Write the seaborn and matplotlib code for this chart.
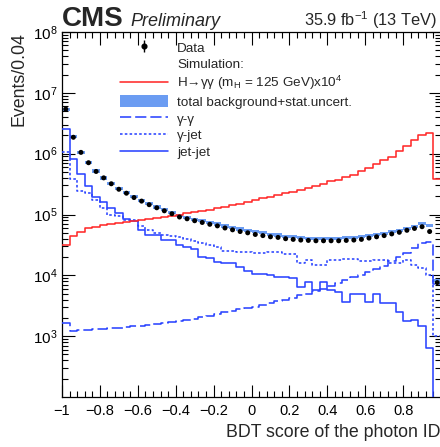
import numpy as np
import pandas as pd
import matplotlib
matplotlib.use("Agg")
import matplotlib.pyplot as plt
import seaborn as sns
from matplotlib.lines import Line2D
from matplotlib.patches import Patch
from matplotlib.legend_handler import HandlerTuple
from matplotlib.ticker import MultipleLocator, LogLocator, NullFormatter, FixedLocator, FixedFormatter

# ---------------- data ----------------
x_min, x_max, bin_width = -1.0, 1.0, 0.04

data_counts = [5.4e6, 1.86e6, 1.05e6, 7.1e5, 5.1e5, 4.0e5, 3.2e5, 2.6e5, 2.24e5, 1.9e5,
               1.66e5, 1.45e5, 1.29e5, 1.15e5, 1.03e5, 9.1e4, 8.5e4, 7.9e4, 7.4e4, 6.9e4,
               6.5e4, 6.0e4, 5.6e4, 5.25e4, 5.0e4, 4.7e4, 4.5e4, 4.3e4, 4.2e4, 4.0e4,
               3.9e4, 3.8e4, 3.75e4, 3.7e4, 3.7e4, 3.7e4, 3.7e4, 3.75e4, 3.8e4, 3.9e4,
               4.1e4, 4.3e4, 4.5e4, 4.8e4, 5.1e4, 5.5e4, 5.9e4, 6.3e4, 5.25e4, 7.6e3]

total_bkg = [5.4e6, 1.9e6, 1.05e6, 7.2e5, 5.2e5, 4.0e5, 3.2e5, 2.65e5, 2.3e5, 1.95e5,
             1.7e5, 1.5e5, 1.33e5, 1.2e5, 1.07e5, 9.6e4, 9.0e4, 8.4e4, 7.9e4, 7.4e4,
             7.0e4, 6.5e4, 6.1e4, 5.8e4, 5.5e4, 5.2e4, 5.0e4, 4.7e4, 4.6e4, 4.4e4,
             4.3e4, 4.2e4, 4.1e4, 4.1e4, 4.1e4, 4.1e4, 4.1e4, 4.2e4, 4.2e4, 4.3e4,
             4.5e4, 4.7e4, 4.9e4, 5.2e4, 5.5e4, 5.9e4, 6.4e4, 7.2e4, 6.7e4, 8.3e3]
bkg_rel_unc = 0.06

signal_x1e4 = [3.1e4, 4.5e4, 5.2e4, 5.9e4, 6.3e4, 6.6e4, 6.9e4, 7.2e4, 7.4e4, 7.8e4,
               8.1e4, 8.4e4, 8.9e4, 9.1e4, 9.5e4, 1.0e5, 1.05e5, 1.1e5, 1.15e5, 1.2e5,
               1.27e5, 1.35e5, 1.43e5, 1.51e5, 1.62e5, 1.72e5, 1.84e5, 1.95e5, 2.09e5, 2.24e5,
               2.34e5, 2.57e5, 2.75e5, 2.9e5, 3.2e5, 3.5e5, 3.7e5, 4.1e5, 4.5e5, 5.2e5,
               5.9e5, 6.8e5, 7.8e5, 8.9e5, 1.12e6, 1.35e6, 1.66e6, 2.0e6, 2.2e6, 3.8e5]

gamma_gamma = [1660, 1230, 1260, 1270, 1290, 1320, 1350, 1380, 1410, 1450,
               1480, 1510, 1580, 1620, 1700, 1780, 1860, 1950, 2040, 2140,
               2290, 2450, 2630, 2750, 2880, 3020, 3240, 3470, 3720, 3980,
               4270, 4680, 5010, 5500, 5890, 6610, 7410, 8320, 9330, 1.02e4,
               1.12e4, 1.26e4, 1.45e4, 1.7e4, 2.0e4, 2.34e4, 2.8e4, 3.4e4, 3.55e4, 7.1e3]

gamma_jet = [1.05e6, 3.9e5, 2.45e5, 2.24e5, 1.74e5, 1.26e5, 9.8e4, 9.3e4, 8.1e4, 8.1e4,
             6.5e4, 5.6e4, 4.9e4, 4.6e4, 4.4e4, 4.3e4, 4.0e4, 3.6e4, 3.4e4, 3.1e4,
             2.9e4, 2.5e4, 2.5e4, 2.4e4, 2.4e4, 2.3e4, 2.3e4, 2.4e4, 2.4e4, 2.25e4,
             2.25e4, 1.6e4, 1.8e4, 1.5e4, 1.5e4, 1.8e4, 1.8e4, 1.85e4, 1.85e4, 1.75e4,
             1.75e4, 1.8e4, 1.8e4, 1.6e4, 1.6e4, 1.8e4, 1.5e4, 1.3e4, 1.0e4, 1.0e3]

jet_jet = [2.5e6, 8.3e5, 4.7e5, 2.9e5, 1.95e5, 1.62e5, 1.26e5, 1.05e5, 8.3e4, 7.9e4,
           5.6e4, 4.6e4, 4.6e4, 3.8e4, 3.8e4, 3.2e4, 2.95e4, 2.7e4, 2.0e4, 1.9e4,
           1.66e4, 1.6e4, 1.6e4, 1.35e4, 1.2e4, 1.07e4, 1.05e4, 1.0e4, 9.5e3, 9.3e3,
           8.9e3, 6.5e3, 7.9e3, 5.8e3, 7.9e3, 5.8e3, 5.4e3, 3.7e3, 5.0e3, 5.0e3,
           3.7e3, 5.0e3, 3.5e3, 3.5e3, 2.5e3, 1.75e3, 1.85e3, 1.45e3, 630, 0]

x_tick_values = [-1, -0.8, -0.6, -0.4, -0.2, 0, 0.2, 0.4, 0.6, 0.8, 1]
x_tick_labels = ["\u22121", "\u22120.8", "\u22120.6", "\u22120.4", "\u22120.2", "0",
                 "0.2", "0.4", "0.6", "0.8", ""]
y_tick_values = [1e3, 1e4, 1e5, 1e6, 1e7, 1e8]
y_tick_labels = ["$10^{3}$", "$10^{4}$", "$10^{5}$", "$10^{6}$", "$10^{7}$", "$10^{8}$"]

# ---------------- style ----------------
sns.set_theme(style="ticks")
plt.rcParams["font.family"] = ["Liberation Sans", "DejaVu Sans"]
plt.rcParams["mathtext.fontset"] = "custom"
plt.rcParams["mathtext.rm"] = "Liberation Sans"
plt.rcParams["mathtext.it"] = "Liberation Sans:italic"
plt.rcParams["mathtext.bf"] = "Liberation Sans:bold"
plt.rcParams["axes.linewidth"] = 0.9
plt.rcParams["axes.edgecolor"] = "black"

RED = "#ff2a2a"
BLUE = "#2a44ff"
BAND = "#6b9cf2"
DASH = (0, (7, 2.5))
DOT = (0, (1.6, 1.4))

n_bins = len(data_counts)
edges = np.round(x_min + bin_width * np.arange(n_bins + 1), 3)
centers = edges[:-1] + bin_width / 2


def step_frame(vals):
    v = np.asarray(vals, dtype=float)
    v = np.where(v > 0, v, 1e-1)
    return pd.DataFrame({"x": edges, "y": np.append(v, v[-1])})


fig = plt.figure(figsize=(4.40, 4.47), dpi=100)
ax = fig.add_axes([62 / 440, 50 / 447, 379 / 440, 365 / 447])
ax.set_yscale("log")

# background band
bk = np.asarray(total_bkg, dtype=float)
ax.fill_between(edges, np.append(bk, bk[-1]) * (1 - bkg_rel_unc),
                np.append(bk, bk[-1]) * (1 + bkg_rel_unc), step="post",
                color=BAND, lw=0, zorder=1)

lw = 1.15
sns.lineplot(data=step_frame(gamma_gamma), x="x", y="y", ax=ax, estimator=None, sort=False,
             drawstyle="steps-post", color=BLUE, lw=lw, linestyle=DASH, zorder=3)
sns.lineplot(data=step_frame(gamma_jet), x="x", y="y", ax=ax, estimator=None, sort=False,
             drawstyle="steps-post", color=BLUE, lw=lw, linestyle=DOT, zorder=3)
sns.lineplot(data=step_frame(jet_jet), x="x", y="y", ax=ax, estimator=None, sort=False,
             drawstyle="steps-post", color=BLUE, lw=lw, zorder=3)
sns.lineplot(data=step_frame(signal_x1e4), x="x", y="y", ax=ax, estimator=None, sort=False,
             drawstyle="steps-post", color=RED, lw=lw, zorder=3)

# data points
dc = np.asarray(data_counts, dtype=float)
ax.errorbar(centers, dc, yerr=np.sqrt(dc), fmt="none", ecolor="black", elinewidth=0.9, zorder=5)
sns.scatterplot(x=centers, y=dc, ax=ax, color="black", s=13, edgecolor="none", zorder=6)

ax.set_xlim(x_min, x_max)
ax.set_ylim(1e2, 1e8)

# ticks
ax.xaxis.set_major_locator(FixedLocator(x_tick_values))
ax.xaxis.set_major_formatter(FixedFormatter(x_tick_labels))
ax.xaxis.set_minor_locator(MultipleLocator(0.04))
ax.yaxis.set_major_locator(FixedLocator(y_tick_values))
ax.yaxis.set_major_formatter(FixedFormatter(y_tick_labels))
ax.yaxis.set_minor_locator(LogLocator(base=10, subs=np.arange(2, 10)))
ax.yaxis.set_minor_formatter(NullFormatter())
ax.tick_params(which="both", direction="in", top=True, right=True, width=0.8, colors="black")
ax.tick_params(which="major", length=9, labelsize=10.5)
ax.tick_params(axis="y", which="major", labelsize=11)
ax.tick_params(which="minor", length=4.5)
ax.tick_params(axis="x", which="major", pad=5)
ax.tick_params(axis="y", which="major", pad=3)
ax.grid(False)

ax.set_ylabel("Events/0.04", fontsize=12.8, loc="top")
ax.yaxis.set_label_coords(-0.09, 1.0)
ax.set_xlabel("BDT score of the photon ID", fontsize=12.8, loc="right")
ax.xaxis.set_label_coords(1.0, -0.075)

# legend
data_handle = (Line2D([], [], color="black", marker="|", ms=8, mew=1.0, ls="none"),
               Line2D([], [], color="black", marker="o", ms=3.4, ls="none"))
handles = [
    data_handle,
    Line2D([], [], color="none"),
    Line2D([], [], color=RED, lw=lw),
    Patch(facecolor=BAND, edgecolor="none"),
    Line2D([], [], color=BLUE, lw=lw, linestyle=DASH),
    Line2D([], [], color=BLUE, lw=lw, linestyle=DOT),
    Line2D([], [], color=BLUE, lw=lw),
]
labels = ["Data", "Simulation:", "H\u2192\u03b3\u03b3 (m$_\\mathrm{H}$ = 125 GeV)x10$^{4}$",
          "total background+stat.uncert.", "\u03b3-\u03b3", "\u03b3-jet", "jet-jet"]
fig.legend(handles, labels, loc="upper left", bbox_to_anchor=(120 / 440, 1 - 41 / 447),
           frameon=False, fontsize=9.7, borderpad=0, borderaxespad=0, handlelength=3.55,
           handleheight=1.0, handletextpad=0.7, labelspacing=0.22,
           handler_map={tuple: HandlerTuple(ndivide=1, pad=0)})

# header
fig.text(62 / 440, 1 - 26 / 447, "CMS", fontsize=20, fontweight="bold", ha="left", va="baseline")
fig.text(130 / 440, 1 - 26 / 447, "Preliminary", fontsize=13, fontstyle="italic",
         ha="left", va="baseline")
fig.text(437 / 440, 1 - 26 / 447, "35.9 fb$^{-1}$ (13 TeV)", fontsize=11.8,
         ha="right", va="baseline")

fig.savefig("out.png", dpi=100)
